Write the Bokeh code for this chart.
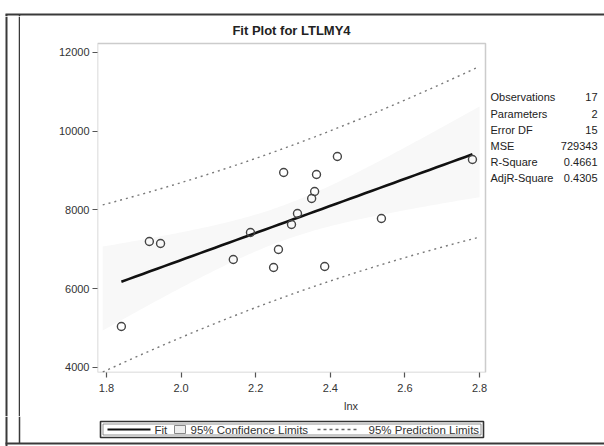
import numpy as np
from bokeh.plotting import figure
from bokeh.layouts import column, row
from bokeh.models import Label, BoxAnnotation, FixedTicker, Range1d
from bokeh.core.properties import value
from bokeh.embed import file_html
from bokeh.resources import INLINE

# ---- data ----
lnx = [1.840, 1.915, 1.945, 2.140, 2.186, 2.261, 2.248, 2.296, 2.312,
       2.275, 2.363, 2.419, 2.358, 2.350, 2.385, 2.537, 2.781]
ltlmy4 = [5041, 7200, 7149, 6742, 7428, 6996, 6539, 7631, 7911,
          8952, 8901, 9358, 8469, 8291, 6565, 7784, 9282]
x_ticks = [1.8, 2.0, 2.2, 2.4, 2.6, 2.8]
x_tick_labels = ["1.8", "2.0", "2.2", "2.4", "2.6", "2.8"]
y_ticks = [4000, 6000, 8000, 10000, 12000]
y_tick_labels = ["4000", "6000", "8000", "10000", "12000"]
stat_names = ["Observations", "Parameters", "Error DF", "MSE", "R-Square", "AdjR-Square"]
stat_values = ["17", "2", "15", "729343", "0.4661", "0.4305"]
legend_labels = ["Fit", "95% Confidence Limits", "95% Prediction Limits"]
t_crit = 2.1314  # t(0.975, 15)

# ---- regression ----
x = np.array(lnx)
y = np.array(ltlmy4)
n = len(x)
b1, b0 = np.polyfit(x, y, 1)
resid = y - (b0 + b1 * x)
mse = np.sum(resid ** 2) / (n - 2)
sxx = np.sum((x - x.mean()) ** 2)
xg = np.linspace(1.79, 2.80, 120)
yg = b0 + b1 * xg
se_mean = np.sqrt(mse * (1.0 / n + (xg - x.mean()) ** 2 / sxx))
se_pred = np.sqrt(mse * (1 + 1.0 / n + (xg - x.mean()) ** 2 / sxx))
xf = np.linspace(x.min(), x.max(), 50)
yf = b0 + b1 * xf

# ---- layout (page pixels) ----
TW, TH = 604, 446
TOP_H, LEFT_W, BOT_H = 16, 20, 30
MW, MH = TW - LEFT_W, TH - TOP_H - BOT_H
FL, FR, FT, FB = 97, 485, 43, 372        # visible plot box (page px)
XMIN, XMAX, YMIN, YMAX = 1.776, 2.816, 3873, 12228
kx = (FR - FL) / (XMAX - XMIN)
ky = (FB - FT) / (YMAX - YMIN)
def dx(px):
    return XMIN + (px - FL) / kx
def dy(py):
    return YMAX - (py - FT) / ky

FONT = "Liberation Sans"
EDGE = "#3a3a3a"

p = figure(width=MW, height=MH, output_backend="svg", toolbar_location=None,
           x_range=(XMIN, dx(TW)), y_range=(YMIN, dy(TOP_H)),
           min_border_left=FL - LEFT_W, min_border_right=0, min_border_top=0,
           min_border_bottom=TOP_H + MH - FB)
p.grid.visible = False
p.outline_line_color = None
p.background_fill_color = "white"
p.border_fill_color = "white"

for ax in (p.xaxis[0], p.yaxis[0]):
    ax.axis_line_color = None
    ax.major_tick_line_color = "#555555"
    ax.major_tick_line_width = 1.2
    ax.major_tick_out = 5
    ax.major_tick_in = 0
    ax.minor_tick_line_color = None
    ax.major_label_text_font = FONT
    ax.major_label_text_font_size = "11px"
    ax.major_label_text_color = "#333333"
p.xaxis.bounds = (XMIN, XMAX)
p.yaxis.bounds = (YMIN, YMAX)
p.xaxis.ticker = FixedTicker(ticks=x_ticks)
p.yaxis.ticker = FixedTicker(ticks=y_ticks)
p.xaxis.major_label_overrides = {t: l for t, l in zip(x_ticks, x_tick_labels)}
p.yaxis.major_label_overrides = {t: l for t, l in zip(y_ticks, y_tick_labels)}
p.xaxis.major_label_standoff = 6
p.yaxis.major_label_standoff = 3
p.xaxis.axis_label = "lnx"
p.xaxis.axis_label_text_font = FONT
p.xaxis.axis_label_text_font_size = "11px"
p.xaxis.axis_label_text_font_style = "normal"
p.xaxis.axis_label_text_color = "#333333"
p.xaxis.axis_label_standoff = 5

p.add_layout(BoxAnnotation(left=XMIN, right=XMAX, bottom=YMIN, top=YMAX,
                           fill_alpha=0, line_color="#555555", line_width=1.5))

p.varea(x=xg, y1=yg - t_crit * se_mean, y2=yg + t_crit * se_mean,
        fill_color="#f8f8f8", fill_alpha=1.0)
p.line(xg, yg + t_crit * se_pred, line_color="#7a7a7a", line_width=1.4, line_dash="2 4")
p.line(xg, yg - t_crit * se_pred, line_color="#7a7a7a", line_width=1.4, line_dash="2 4")
p.line(xf, yf, line_color="#111111", line_width=2.6)
p.scatter(lnx, ltlmy4, marker="circle", size=8, fill_color=None,
          line_color="#444444", line_width=1.4)

p.add_layout(Label(x=dx((FL + FR) / 2), y=dy(30), text="Fit Plot for LTLMY4",
                   text_font=FONT, text_font_size="13px", text_font_style="bold",
                   text_align="center", text_baseline="middle", text_color="#222222"))

rows_y = [96, 113, 129, 145, 161, 177]
for nm, vl, yy in zip(stat_names, stat_values, rows_y):
    p.add_layout(Label(x=dx(490), y=dy(yy), text=nm,
                       text_font=FONT, text_font_size="11px",
                       text_align="left", text_baseline="middle", text_color="#222222"))
    p.add_layout(Label(x=dx(597), y=dy(yy), text=vl,
                       text_font=FONT, text_font_size="11px",
                       text_align="right", text_baseline="middle", text_color="#222222"))

def strip(w, h):
    f = figure(width=w, height=h, output_backend="svg", toolbar_location=None,
               x_axis_location=None, y_axis_location=None, min_border=0,
               x_range=Range1d(0, w), y_range=Range1d(h, 0))
    f.grid.visible = False
    f.outline_line_color = None
    f.background_fill_color = "white"
    f.border_fill_color = "white"
    if "frame_align" in f.properties():
        f.frame_align = False
    return f

# top strip: scanned frame top edge
ts = strip(TW, TOP_H)
ts.segment(x0=[5], y0=[14], x1=[TW], y1=[14], line_color=EDGE, line_width=2)
ts.segment(x0=[6, 19], y0=[14, 14], x1=[6, 19], y1=[TOP_H, TOP_H],
           line_color=EDGE, line_width=[2, 1.5])

# left strip: scanned frame left edges
ls = strip(LEFT_W, MH)
ls.segment(x0=[6, 19], y0=[0, 0], x1=[6, 19], y1=[MH, MH],
           line_color=EDGE, line_width=[2, 1.5])

# bottom strip: legend and frame bottom edge
bs = strip(TW, BOT_H)
ly = 13
bs.quad(left=[100], right=[483], top=[5], bottom=[21], fill_color="white",
        line_color="#333333", line_width=1.6)
bs.quad(left=[102.5], right=[480.5], top=[7.5], bottom=[18.5], fill_alpha=0,
        line_color="#777777", line_width=0.8)
bs.segment(x0=[107], y0=[ly], x1=[150], y1=[ly], line_color="#111111", line_width=2.2)
bs.quad(left=[174], right=[185], top=[ly - 4], bottom=[ly + 4], fill_color="#eeeeee",
        line_color="#888888", line_width=1)
bs.segment(x0=[317], y0=[ly], x1=[357], y1=[ly], line_color="#666666",
           line_width=1.4, line_dash="3 3")
bs.text(x=[154, 190, 368], y=[ly, ly, ly], text=legend_labels,
        text_font=value(FONT), text_font_size="11.5px", text_color="#333333",
        text_baseline="middle", text_align="left")
bs.segment(x0=[6, 19], y0=[0, 0], x1=[6, 19], y1=[BOT_H, 27],
           line_color=EDGE, line_width=[2, 1.5])
bs.segment(x0=[5], y0=[27], x1=[TW], y1=[27], line_color=EDGE, line_width=2)

layout = column(ts, row(ls, p, spacing=0), bs, spacing=0)
open("out.html", "w").write(file_html(layout, INLINE))
